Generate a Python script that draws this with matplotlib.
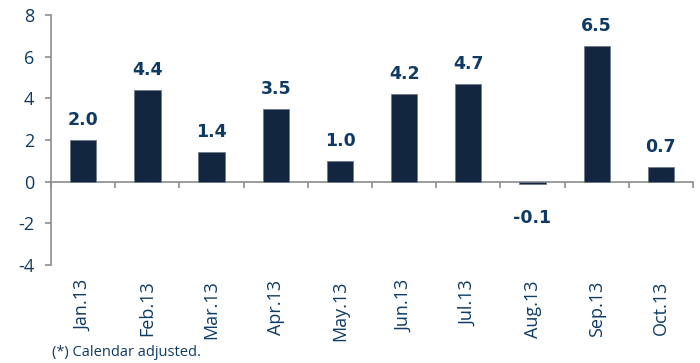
import numpy as np
import matplotlib
matplotlib.use("Agg")
import matplotlib.pyplot as plt

months = ["Jan.13", "Feb.13", "Mar.13", "Apr.13", "May.13",
          "Jun.13", "Jul.13", "Aug.13", "Sep.13", "Oct.13"]
values = [2.0, 4.4, 1.4, 3.5, 1.0, 4.2, 4.7, -0.1, 6.5, 0.7]
y_ticks = [-4, -2, 0, 2, 4, 6, 8]

bar_color = "#13263f"
text_color = "#0e3a63"
axis_color = "#8c8c8c"

plt.rcParams["font.family"] = ["Open Sans", "DejaVu Sans"]

fig = plt.figure(figsize=(7.0, 3.63), dpi=100)
ax = fig.add_axes([0.073, 0.27, 0.917, 0.689])

x = np.arange(len(months))
ax.bar(x, values, width=0.41, color=bar_color, edgecolor="#6f7b8a", linewidth=0.6, zorder=3)

for xi, v in zip(x, values):
    if v >= 0:
        ax.annotate("%.1f" % v, (xi, v), xytext=(0, 8), textcoords="offset points",
                    ha="center", va="bottom", fontsize=12.5, fontweight="bold",
                    color=text_color, family="DejaVu Sans")
    else:
        ax.annotate("%.1f" % v, (xi, v), xytext=(0, -18), textcoords="offset points",
                    ha="center", va="top", fontsize=12.5, fontweight="bold",
                    color=text_color, family="DejaVu Sans")

ax.set_xlim(-0.5, len(months) - 0.5)
ax.set_ylim(-4, 8)
ax.set_yticks(y_ticks)
ax.set_yticklabels([str(t) for t in y_ticks], fontsize=13, color=text_color)

# x axis sits on zero, ticks between categories, labels pushed below the plot
ax.spines["top"].set_visible(False)
ax.spines["right"].set_visible(False)
ax.spines["bottom"].set_position(("data", 0))
for s in ["left", "bottom"]:
    ax.spines[s].set_color(axis_color)
    ax.spines[s].set_linewidth(1.2)

ax.set_xticks(x)
ax.set_xticklabels(months, rotation=90, fontsize=13, color=text_color)
ax.set_xticks(np.arange(len(months) + 1) - 0.5, minor=True)
ax.tick_params(axis="x", which="major", length=0, pad=71)
ax.tick_params(axis="x", which="minor", length=4, width=1.2, color=axis_color, direction="out")
ax.tick_params(axis="y", length=4, width=1.2, color=axis_color, direction="out", pad=8)

fig.text(0.074, 0.03, "(*) Calendar adjusted.", fontsize=10.5, color=text_color, ha="left", va="center")

fig.savefig("out.png", dpi=100)
